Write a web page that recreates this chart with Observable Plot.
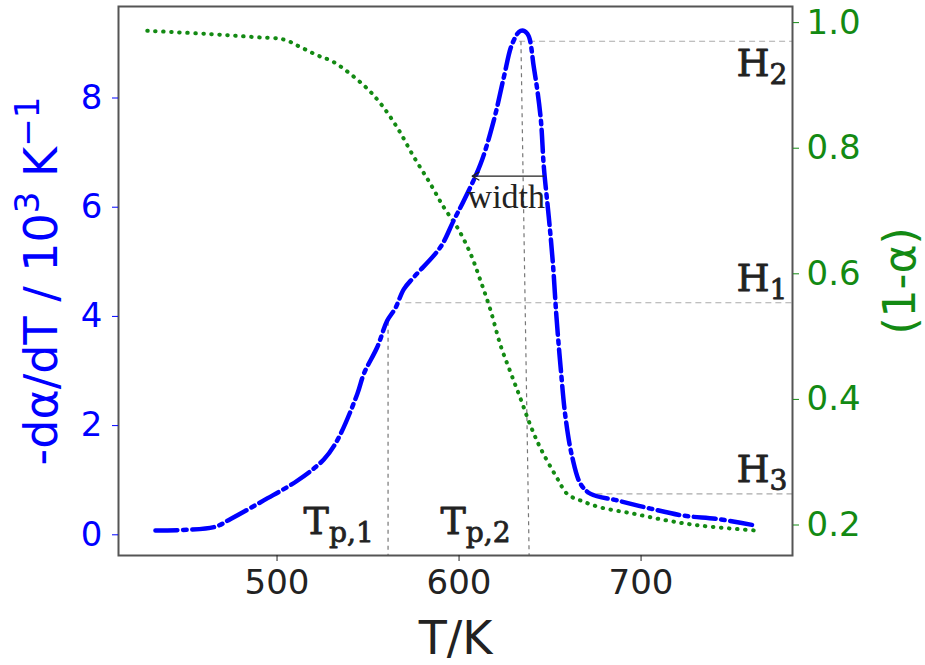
<!DOCTYPE html>
<html><head><meta charset="utf-8">
<script src="https://cdn.jsdelivr.net/npm/d3@7"></script>
<script src="https://cdn.jsdelivr.net/npm/@observablehq/plot@0.6"></script>
<style>body{margin:0;background:#fff;} svg{display:block}</style>
</head><body><div id="chart"></div>
<script>
// ---- data ----
const blueT = [433.2, 465.3, 474.5, 492.7, 511.1, 525.7, 533.1, 544.1, 547.7, 555.1, 560.5, 565.0, 569.7, 575.2, 589.8, 597.1, 602.6, 611.8, 619.1, 624.6, 629.2, 633.8, 637.5, 641.1, 644.8, 646.6, 649.3, 651.5, 653.5, 655.8, 658.5, 662.2, 666.8, 672.3, 686.9, 705.2, 723.5, 741.9, 762.9];
const blueV = [0.08, 0.14, 0.29, 0.63, 0.99, 1.38, 1.73, 2.58, 2.95, 3.44, 3.92, 4.15, 4.50, 4.72, 5.27, 5.76, 6.12, 6.79, 7.59, 8.38, 8.99, 9.23, 9.18, 8.56, 7.65, 6.73, 5.82, 5.0, 4.0, 3.07, 2.15, 1.42, 0.93, 0.75, 0.63, 0.48, 0.35, 0.29, 0.17];
const greenT = [428.7, 461.6, 487.3, 503.7, 512.9, 522.1, 531.2, 547.7, 556.9, 566.0, 575.2, 584.3, 591.6, 599.0, 606.3, 611.8, 617.3, 622.8, 628.3, 633.8, 639.3, 644.8, 653.6, 659.6, 666.8, 677.7, 695.9, 714.6, 732.7, 763.9];
const greenG = [0.987, 0.982, 0.977, 0.973, 0.961, 0.948, 0.937, 0.900, 0.871, 0.833, 0.786, 0.743, 0.706, 0.674, 0.632, 0.589, 0.542, 0.486, 0.443, 0.401, 0.358, 0.322, 0.276, 0.249, 0.239, 0.228, 0.218, 0.207, 0.199, 0.191];

const xTicks = [500, 600, 700];
const leftTicks = [0, 2, 4, 6, 8];
const rightTicks = [0.2, 0.4, 0.6, 0.8, 1.0];

// guide lines (data units)
const hGuideY = [9.04, 4.25, 0.75];
const hGuideX1 = [633.0, 570.5, 670.0];
const vGuideX1 = [561.0, 634.0];
const vGuideX2 = [561.0, 638.5];
const vGuideY1 = [3.9, 9.04];
const hLabels = ["H_{2}", "H_{1}", "H_{3}"];
const hLabelY = [8.41, 4.47, 0.96];
const tLabels = ["T_{p,1}", "T_{p,2}"];
const tLabelX = [514.6, 589.8];
const tLabelY = 0.02;
const widthArrow = {x1: 646.6, x2: 607.2, y: 6.57};
const widthText = {x: 604.7, y: 5.99, label: "width"};

const xDomain = [412.9, 783.2];
const yDomain = [-0.379, 9.676];

// map right-axis (1-alpha) into left-axis units
const toLeft = g => (9.8 + (g - 0.2) * 628) / 54.6;
const fromLeft = v => (v * 54.6 - 9.8) / 628 + 0.2;

const blue = blueT.map((t, i) => ({T: t, v: blueV[i]}));
const green = greenT.map((t, i) => ({T: t, v: toLeft(greenG[i])}));
const hGuides = hGuideY.map((y, i) => ({x1: hGuideX1[i], x2: xDomain[1], y}));
const vGuides = vGuideX1.map((x, i) => ({x1: x, x2: vGuideX2[i], y1: vGuideY1[i], y2: yDomain[0]}));
const hLab = hLabels.map((l, i) => ({label: l, y: hLabelY[i]}));
const tLab = tLabels.map((l, i) => ({label: l, x: tLabelX[i], y: tLabelY}));

const chart = Plot.plot({
  width: 925, height: 665,
  marginLeft: 118, marginRight: 133, marginTop: 6, marginBottom: 110,
  style: {fontFamily: "DejaVu Sans", background: "white"},
  x: {domain: xDomain},
  y: {domain: yDomain},
  marks: [
    Plot.link(hGuides, {x1: "x1", x2: "x2", y1: "y", y2: "y", stroke: "#aaa", strokeWidth: 1.2, strokeDasharray: "6,4"}),
    Plot.link(vGuides, {x1: "x1", x2: "x2", y1: "y1", y2: "y2", stroke: "#777", strokeWidth: 1.2, strokeDasharray: "4,4"}),
    Plot.line(green, {x: "T", y: "v", curve: "catmull-rom", stroke: "#138a13", strokeWidth: 4, strokeLinecap: "round", strokeDasharray: "0.5,7.5"}),
    Plot.line(blue, {x: "T", y: "v", curve: "catmull-rom", stroke: "#0000ff", strokeWidth: 4.5, strokeDasharray: "22,5.6,3.5,5.6"}),
    Plot.arrow([widthArrow], {x1: "x1", x2: "x2", y1: "y", y2: "y", stroke: "#222", strokeWidth: 1.3, headLength: 9}),
    Plot.text([widthText], {x: "x", y: "y", text: "label", textAnchor: "start", lineAnchor: "bottom", fontSize: 34, fontFamily: "Liberation Serif", fill: "#222"}),
    Plot.text(hLab, {x: () => xDomain[1], y: "y", text: "label", textAnchor: "end", lineAnchor: "bottom", dx: -5, fontSize: 38, fontFamily: "DejaVu Serif", fill: "#222", stroke: "#222", strokeWidth: 0.8, className: "rich"}),
    Plot.text(tLab, {x: "x", y: "y", text: "label", textAnchor: "start", lineAnchor: "bottom", fontSize: 38, fontFamily: "DejaVu Serif", fill: "#222", stroke: "#222", strokeWidth: 0.8, className: "rich"}),
    Plot.frame({stroke: "#555", strokeWidth: 2}),
    Plot.axisX(xTicks, {anchor: "bottom", tickSize: 6, tickPadding: 8, fontSize: 34, color: "#222", label: null, tickFormat: d => String(d)}),
    Plot.axisY(leftTicks, {anchor: "left", tickSize: 6, tickPadding: 10, fontSize: 34, color: "#0000ff", label: null, tickFormat: d => String(d)}),
    Plot.axisY(rightTicks.map(toLeft), {anchor: "right", tickSize: 6, tickPadding: 8, fontSize: 34, color: "#138a13", label: null, tickFormat: d => fromLeft(d).toFixed(1)}),
    Plot.text(["-dα/dT / 10^{3} K^{−1}"], {frameAnchor: "left", textAnchor: "middle", rotate: -90, dx: -76, fontSize: 46, fill: "#0000ff", className: "rich"}),
    Plot.text(["(1-α)"], {frameAnchor: "right", textAnchor: "middle", rotate: -90, dx: 108, fontSize: 44, fill: "#138a13"}),
    Plot.text(["T/K"], {frameAnchor: "bottom", textAnchor: "middle", lineAnchor: "bottom", dy: 98, fontSize: 46, fill: "#222"})
  ]
});

// sub/superscripts as real tspans
function richText(el) {
  const s = el.textContent;
  const re = /([_^])\{([^}]*)\}/g;
  if (!/([_^])\{/.test(s)) return;
  const size = parseFloat(el.closest("g").getAttribute("font-size")) || 30;
  el.textContent = "";
  const ns = "http://www.w3.org/2000/svg";
  let last = 0, m, shift = 0;
  const add = (str, kind) => {
    const t = document.createElementNS(ns, "tspan");
    t.textContent = str;
    const target = kind === "_" ? 0.21 * size : kind === "^" ? -0.4 * size : 0;
    const dy = target - shift; shift = target;
    if (dy) t.setAttribute("dy", dy);
    if (kind) t.setAttribute("font-size", 0.74 * size);
    el.appendChild(t);
  };
  while ((m = re.exec(s))) {
    if (m.index > last) add(s.slice(last, m.index), null);
    add(m[2], m[1]);
    last = re.lastIndex;
  }
  if (last < s.length) add(s.slice(last), null);
}
chart.querySelectorAll(".rich text").forEach(richText);
document.getElementById("chart").appendChild(chart);
</script>
</body></html>
